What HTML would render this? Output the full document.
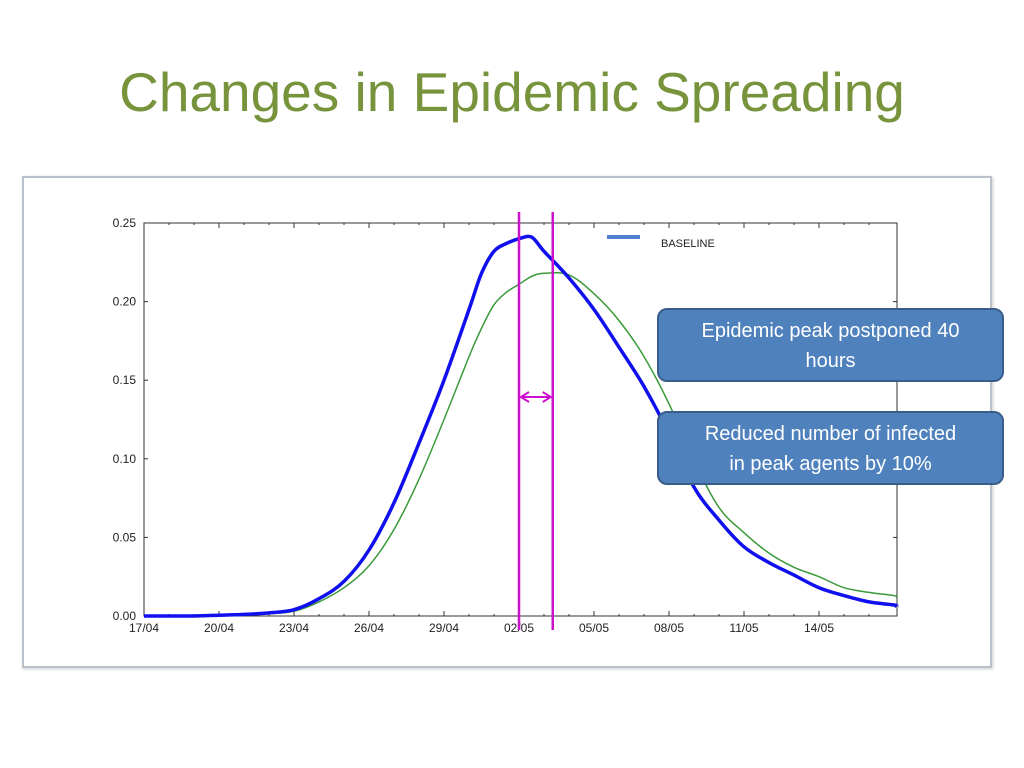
<!DOCTYPE html>
<html><head><meta charset="utf-8"><style>
body{margin:0;width:1024px;height:768px;background:#fff;overflow:hidden;font-family:"Liberation Sans",sans-serif;position:relative}
#title{position:absolute;left:0;width:1024px;top:60px;text-align:center;font-size:55px;color:#77933C}
#panel{position:absolute;left:22px;top:176px;width:966px;height:488px;border:2px solid #b9c0c9;background:#fff;box-shadow:1px 1px 3px #ccc}
.box{position:absolute;left:657px;width:347px;height:74px;background:#4F81BD;border:2px solid #385D8A;border-radius:10px;color:#fff;font-size:20px;text-align:center;line-height:30px;box-sizing:border-box;padding-top:6px;white-space:nowrap}
</style></head><body>
<div id="title">Changes in Epidemic Spreading</div>
<div id="panel"></div>
<svg width="1024" height="768" style="position:absolute;left:0;top:0">
<g id="axes"></g><g id="series"></g>
</svg>
<div class="box" style="top:308px">Epidemic peak postponed 40<br>hours</div>
<div class="box" style="top:411px">Reduced number of infected<br>in peak agents by 10%</div>
<script>
const days=[0,1,2,3,4,5,6,7,8,9,10,11,12,13,13.5,14,14.5,15,15.5,16,17,18,19,20,21,22,23,24,25,26,27,28,29,30,30.1];
const baseline=[0,0,0,0.0005,0.001,0.002,0.004,0.011,0.022,0.042,0.072,0.11,0.15,0.195,0.218,0.232,0.237,0.240,0.241,0.232,0.215,0.195,0.171,0.146,0.116,0.082,0.061,0.044,0.034,0.026,0.018,0.013,0.009,0.007,0.006];
const scenario=[0,0,0,0.0003,0.0008,0.0015,0.003,0.009,0.018,0.032,0.055,0.087,0.125,0.165,0.183,0.198,0.206,0.211,0.216,0.218,0.217,0.205,0.188,0.165,0.135,0.099,0.069,0.053,0.040,0.031,0.025,0.018,0.015,0.013,0.012];
const yTicks=[0,0.05,0.10,0.15,0.20,0.25];
const xTickLabels=["17/04","20/04","23/04","26/04","29/04","02/05","05/05","08/05","11/05","14/05"];
const markerDays=[15,16.35];
const NS="http://www.w3.org/2000/svg";
const X0=144,X1=897,Y0=616,Y1=223,DAYMAX=30.12;
const xs=d=>X0+(X1-X0)*d/DAYMAX;
const ys=v=>Y0-(Y0-Y1)*v/0.25;
function mk(t,a,p){const e=document.createElementNS(NS,t);for(const k in a)e.setAttribute(k,a[k]);p.appendChild(e);return e;}
const ax=document.getElementById('axes'),se=document.getElementById('series');
const fr=mk('rect',{x:X0,y:Y1,width:X1-X0,height:Y0-Y1,fill:'none',stroke:'#333','stroke-width':1},ax);


yTicks.forEach(v=>{
 const t=mk('text',{x:X0-8,y:ys(v)+4,'text-anchor':'end','font-size':12,fill:'#222'},ax);
 t.textContent=v.toFixed(2);
 
 
 mk('line',{x1:X0,x2:X0+4,y1:ys(v),y2:ys(v),stroke:'#333'},ax);
 mk('line',{x1:X1,x2:X1-4,y1:ys(v),y2:ys(v),stroke:'#333'},ax);
});
xTickLabels.forEach((l,i)=>{
 const x=xs(i*3);
 const t=mk('text',{x:x,y:Y0+16,'text-anchor':'middle','font-size':12,fill:'#222'},ax);
 t.textContent=l;
 
 
 mk('line',{x1:x,x2:x,y1:Y0,y2:Y0-5,stroke:'#333'},ax);
 mk('line',{x1:x,x2:x,y1:Y1,y2:Y1+5,stroke:'#333'},ax);
});
for(let d=1;d<=30;d++){if(d%3){mk('line',{x1:xs(d),x2:xs(d),y1:Y0,y2:Y0-2,stroke:'#333'},ax);mk('line',{x1:xs(d),x2:xs(d),y1:Y1,y2:Y1+2,stroke:'#333'},ax);}}
function path(vals){
 const p=vals.map((v,i)=>[xs(days[i]),ys(v)]);
 let s='M'+p[0][0].toFixed(1)+','+p[0][1].toFixed(1);
 for(let i=0;i<p.length-1;i++){
  const p0=p[Math.max(0,i-1)],p1=p[i],p2=p[i+1],p3=p[Math.min(p.length-1,i+2)];
  const c1=[p1[0]+(p2[0]-p0[0])/6,p1[1]+(p2[1]-p0[1])/6];
  const c2=[p2[0]-(p3[0]-p1[0])/6,p2[1]-(p3[1]-p1[1])/6];
  s+=` C${c1[0].toFixed(1)},${c1[1].toFixed(1)} ${c2[0].toFixed(1)},${c2[1].toFixed(1)} ${p2[0].toFixed(1)},${p2[1].toFixed(1)}`;
 }
 return s;
}
const g=mk('path',{d:path(scenario),fill:'none',stroke:'#3a9a3a','stroke-width':1.5,'stroke-linejoin':'round'},se);


const b=mk('path',{d:path(baseline),fill:'none',stroke:'#1010ee','stroke-width':3.5,'stroke-linejoin':'round'},se);


markerDays.forEach(d=>{
 const l=mk('line',{x1:xs(d),x2:xs(d),y1:212,y2:630,stroke:'#cc11cc','stroke-width':2.5},se);
 
 
});
const xa=xs(markerDays[0])+2,xb=xs(markerDays[1])-2,ay=397;
const ar=mk('path',{d:`M${xa},${ay} L${xb},${ay} M${xa+8},${ay-5} L${xa},${ay} L${xa+8},${ay+5} M${xb-8},${ay-5} L${xb},${ay} L${xb-8},${ay+5}`,fill:'none',stroke:'#cc11cc','stroke-width':2},se);


const lg=mk('line',{x1:607,x2:640,y1:237,y2:237,stroke:'#4f81d0','stroke-width':4},se);


const lt=mk('text',{x:661,y:247,'font-size':11,fill:'#222'},se);
lt.textContent='BASELINE';


</script>
</body></html>
